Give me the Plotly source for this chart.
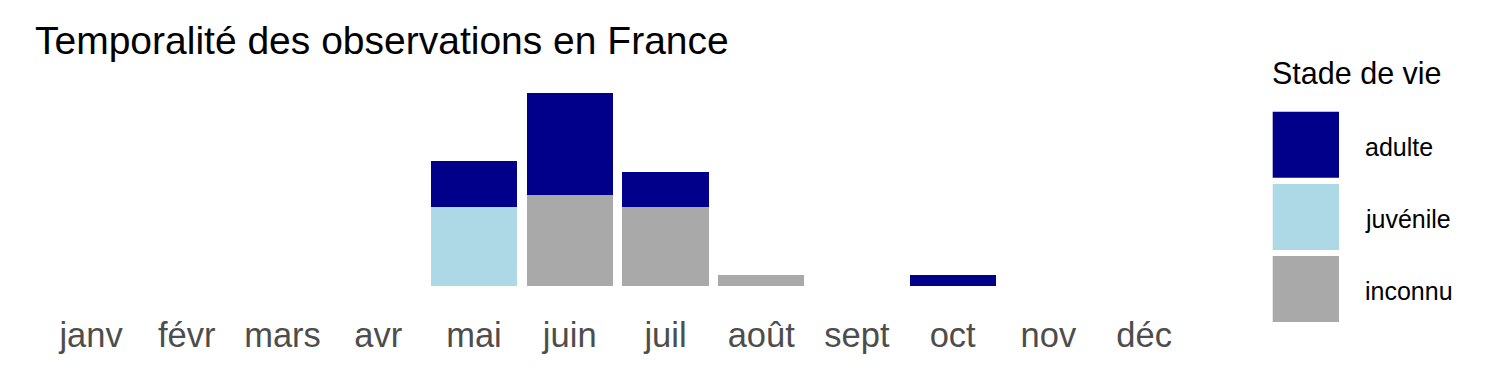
import plotly.graph_objects as go

months = ["janv", "févr", "mars", "avr", "mai", "juin", "juil", "août", "sept", "oct", "nov", "déc"]
stages = ["adulte", "juvénile", "inconnu"]
adulte = [0, 0, 0, 0, 4, 9, 3, 0, 0, 1, 0, 0]
juvenile = [0, 0, 0, 0, 7, 0, 0, 0, 0, 0, 0, 0]
inconnu = [0, 0, 0, 0, 0, 8, 7, 1, 0, 0, 0, 0]

colors = {"adulte": "#00008B", "juvénile": "#ADD8E6", "inconnu": "#A9A9A9"}
values = {"adulte": adulte, "juvénile": juvenile, "inconnu": inconnu}

W, H = 1500, 375
FONT = "Liberation Sans, Arial, sans-serif"

fig = go.Figure()
# stacking: first trace at bottom -> add in reverse so 'adulte' is on top
for s in reversed(stages):
    fig.add_trace(go.Bar(x=months, y=values[s], name=s, marker_color=colors[s],
                         marker_line_width=0, showlegend=False))

def px_x(p):
    return p / W

def px_y(p):
    return 1 - p / H

ymax = max(a + j + i for a, j, i in zip(adulte, juvenile, inconnu))
fig.update_layout(
    width=W, height=H,
    margin=dict(l=0, r=0, t=0, b=0),
    paper_bgcolor="white", plot_bgcolor="white",
    barmode="stack", bargap=0.1,
    font=dict(family=FONT, color="black"),
    title=dict(text="Temporalité des observations en France", x=px_x(35), xanchor="left",
               y=px_y(40), yanchor="middle", xref="paper", yref="paper",
               font=dict(size=39, color="black", family=FONT)),
    xaxis=dict(domain=[px_x(33.6), px_x(1201.6)], range=[-0.6, len(months) - 0.4],
               showgrid=False, zeroline=False,
               showline=False, ticks="", tickfont=dict(size=34.5, color="#4D4D4D", family=FONT),
               categoryorder="array", categoryarray=months, ticklabelstandoff=16,
               fixedrange=True),
    yaxis=dict(domain=[px_y(295.6), px_y(83.4)], range=[-0.05 * ymax, 1.05 * ymax],
               showgrid=False, zeroline=False, showline=False, showticklabels=False,
               ticks="", fixedrange=True),
)

# Manual legend (ggplot-style large keys)
fig.add_annotation(text="Stade de vie", xref="paper", yref="paper", x=px_x(1270), y=px_y(73),
                   xanchor="left", yanchor="middle", showarrow=False,
                   font=dict(size=30.5, color="black", family=FONT))
key_tops = [111.7, 184.0, 256.0]
for s, top in zip(stages, key_tops):
    fig.add_shape(type="rect", xref="paper", yref="paper",
                  x0=px_x(1272.7), x1=px_x(1339), y0=px_y(top + 66), y1=px_y(top),
                  fillcolor=colors[s], line_width=0)
    fig.add_annotation(text=s, xref="paper", yref="paper", x=px_x(1363), y=px_y(top + 35),
                       xanchor="left", yanchor="middle", showarrow=False,
                       font=dict(size=25, color="black", family=FONT))

fig.write_html("out.html")
